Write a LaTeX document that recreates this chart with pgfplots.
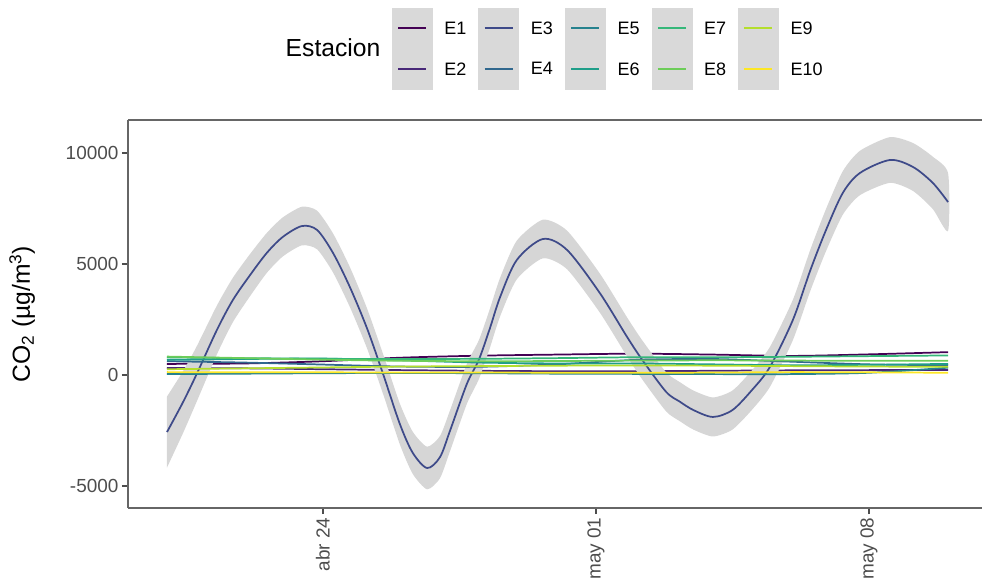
\documentclass[border=0pt]{standalone}
\usepackage{fontspec}
\setmainfont{Liberation Sans}
\usepackage{pgfplots}
\usepackage{pgfplotstable}
\pgfplotsset{compat=1.18}
\definecolor{c1}{HTML}{440154}
\definecolor{c2}{HTML}{482878}
\definecolor{c3}{HTML}{3E4A89}
\definecolor{c4}{HTML}{31688E}
\definecolor{c5}{HTML}{26828E}
\definecolor{c6}{HTML}{1F9E89}
\definecolor{c7}{HTML}{35B779}
\definecolor{c8}{HTML}{6DCD59}
\definecolor{c9}{HTML}{B4DE2C}
\definecolor{c10}{HTML}{FDE725}
\definecolor{bandgrey}{HTML}{D6D6D6}
\definecolor{keygrey}{HTML}{D9D9D9}
\definecolor{tickgrey}{HTML}{4D4D4D}
\definecolor{axgrey}{HTML}{666666}

% E3: day (0 = abr 24), fitted value
\pgfplotstableread{
d y
-4.0 -2570
-3.6 -1260
-3.25 0
-2.72 2030
-2.31 3380
-1.87 4500
-1.44 5500
-1.03 6220
-0.54 6710
-0.15 6530
0.26 5490
0.69 3960
1.13 2100
1.55 0
1.97 -2200
2.3 -3500
2.67 -4190
3.0 -3700
3.26 -2500
3.69 -400
4.0 700
4.28 2100
4.54 3500
4.97 5180
5.64 6126
6.26 5630
7.1 3690
7.8 1710
8.2 650
8.8 -760
9.15 -1200
9.5 -1580
10.0 -1890
10.5 -1580
11.0 -680
11.46 360
12.05 2480
12.5 4730
12.9 6530
13.33 8200
13.77 9100
14.54 9685
15.13 9370
15.64 8650
16.03 7790
}\tableEthree

% E3 confidence band: upper edge forward, lower edge backward
\pgfplotstableread{
d v
-4.0 -970
-3.6 140
-3.25 1250
-2.72 3130
-2.31 4380
-1.87 5450
-1.44 6400
-1.03 7100
-0.54 7580
-0.15 7400
0.26 6370
0.69 4860
1.13 3000
1.55 900
1.97 -1280
2.3 -2550
2.67 -3230
3.0 -2750
3.26 -1580
3.69 500
4.0 1580
4.28 2980
4.54 4370
4.97 6050
5.64 6996
6.26 6500
7.1 4570
7.8 2590
8.2 1530
8.8 120
9.15 -320
9.5 -700
10.0 -1010
10.5 -700
11.0 210
11.46 1260
12.05 3390
12.5 5660
12.9 7480
13.33 9180
13.77 10100
14.54 10715
15.13 10450
15.64 9830
16.03 9090
16.03 6490
15.64 7470
15.13 8290
14.54 8655
13.77 8100
13.33 7220
12.9 5580
12.5 3800
12.05 1570
11.46 -540
11.0 -1570
10.5 -2460
10.0 -2770
9.5 -2460
9.15 -2080
8.8 -1640
8.2 -230
7.8 830
7.1 2810
6.26 4760
5.64 5256
4.97 4310
4.54 2630
4.28 1220
4.0 -180
3.69 -1300
3.26 -3420
3.0 -4650
2.67 -5150
2.3 -4450
1.97 -3120
1.55 -900
1.13 1200
0.69 3060
0.26 4610
-0.15 5660
-0.54 5840
-1.03 5340
-1.44 4600
-1.87 3550
-2.31 2380
-2.72 930
-3.25 -1250
-3.6 -2660
-4.0 -4170
}\tableBand

% other stations
\pgfplotstableread{
d E1 E2 E4 E5 E6 E7 E8 E9 E10
-4 500 320 620 40 680 790 830 260 130
-2 520 300 560 60 720 760 760 300 125
0 620 260 470 80 740 730 690 340 120
2 780 220 380 90 660 720 640 380 115
4 870 190 370 80 560 730 620 400 110
6 920 170 480 60 520 760 630 420 105
8 960 170 680 50 520 800 650 430 100
10 920 190 720 40 480 800 660 420 110
12 860 210 600 40 440 820 650 400 130
14 930 220 480 100 460 850 640 380 120
16.03 1030 230 440 330 500 880 640 370 100
}\tableOthers

\begin{document}
\begin{tikzpicture}
\useasboundingbox (-96pt,-59.25pt) rectangle (640.5pt,381pt);
\begin{axis}[
  scale only axis, width=640.5pt, height=291pt,
  xmin=-5, xmax=16.9, ymin=-5991, ymax=11486,
  clip=false,
  axis lines*=left,
  axis line style={-, axgrey, line width=0.8pt},
  xtick={0,7,14}, xticklabels={abr 24, may 01, may 08},
  ytick={-5000,0,5000,10000},
  yticklabels={-5000,0,5000,10000},
  scaled y ticks=false,
  tick align=outside,
  major tick length=4.5pt,
  tick style={tickgrey, line width=0.9pt},
  ticklabel style={font=\fontsize{14.2}{17}\selectfont, text=tickgrey},
  yticklabel style={inner sep=2.5pt},
  xticklabel style={rotate=90, anchor=east, inner sep=2.5pt},
  ylabel={CO\textsubscript{2} (µg/m\textsuperscript{3})},
  ylabel style={font=\fontsize{18.5}{22}\selectfont, at={(axis description cs:-0.124,0.5)}, anchor=center},
  legend columns=5, legend cell align=left,
  legend style={at={(axis description cs:0.309,1.2887)}, anchor=north west,
    draw=none, fill=none, inner sep=0pt, outer sep=0pt,
    nodes={inner sep=0pt, font=\fontsize{13.5}{16}\selectfont, text depth=0pt},
    /tikz/column sep=9pt, /tikz/row sep=0pt},
  legend image code/.code={\fill[keygrey] (-4.5pt,-15pt) rectangle (25.5pt,15pt);
    \draw[#1, line width=1.3pt] (0pt,0pt) -- (21pt,0pt);},
]
\addplot[c1, line width=1.3pt, smooth, forget plot] table[x=d, y=E1] \tableOthers;
\addplot[c2, line width=1.3pt, smooth, forget plot] table[x=d, y=E2] \tableOthers;
\addplot[fill=bandgrey, draw=none, smooth, tension=0.4, forget plot] table[x=d, y=v] \tableBand;
\addplot[c3, line width=1.3pt, smooth, forget plot] table[x=d, y=y] \tableEthree;
\addplot[c4, line width=1.3pt, smooth, forget plot] table[x=d, y=E4] \tableOthers;
\addplot[c5, line width=1.3pt, smooth, forget plot] table[x=d, y=E5] \tableOthers;
\addplot[c6, line width=1.3pt, smooth, forget plot] table[x=d, y=E6] \tableOthers;
\addplot[c7, line width=1.3pt, smooth, forget plot] table[x=d, y=E7] \tableOthers;
\addplot[c8, line width=1.3pt, smooth, forget plot] table[x=d, y=E8] \tableOthers;
\addplot[c9, line width=1.3pt, smooth, forget plot] table[x=d, y=E9] \tableOthers;
\addplot[c10, line width=1.3pt, smooth, forget plot] table[x=d, y=E10] \tableOthers;

\addlegendimage{c1}\addlegendentry{E1}
\addlegendimage{c3}\addlegendentry{E3}
\addlegendimage{c5}\addlegendentry{E5}
\addlegendimage{c7}\addlegendentry{E7}
\addlegendimage{c9}\addlegendentry{E9}
\addlegendimage{c2}\addlegendentry{E2}
\addlegendimage{c4}\addlegendentry{E4}
\addlegendimage{c6}\addlegendentry{E6}
\addlegendimage{c8}\addlegendentry{E8}
\addlegendimage{c10}\addlegendentry{E10}

\draw[axgrey, line width=0.8pt] (rel axis cs:0,1) -- (rel axis cs:1,1);
\node[anchor=east, font=\fontsize{18.5}{22}\selectfont] at (axis description cs:0.301,1.1856) {Estacion};
\end{axis}
\end{tikzpicture}
\end{document}
